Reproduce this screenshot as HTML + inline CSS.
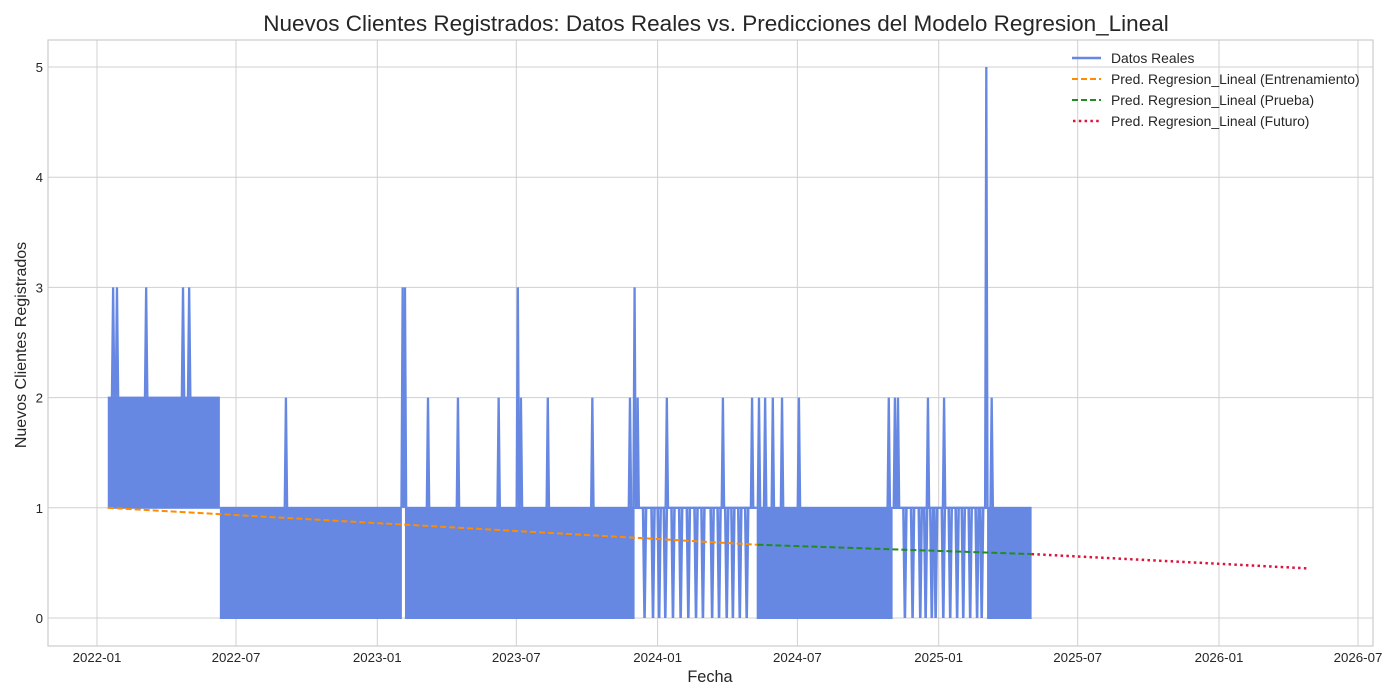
<!DOCTYPE html>
<html><head><meta charset="utf-8"><style>
body{margin:0;background:#fff}
svg{display:block;font-family:"Liberation Sans",Arial,sans-serif}
</style></head><body>
<svg id="chart" width="1400" height="700"></svg>
<script>
// Data (day index since 2022-01-01)
const xTickLabels=["2022-01","2022-07","2023-01","2023-07","2024-01","2024-07","2025-01","2025-07","2026-01","2026-07"];
const xTickDays=[0,181,365,546,730,912,1096,1277,1461,1642];
const yTicks=[0,1,2,3,4,5];
// dense oscillation segments: [startDay,endDay,low,high]
const denseSegments=[[14,160,1,2],[160,397,0,1],[401,700,0,1],[859,1036,0,1],[1159,1217,0,1]];
// sparse segments at value 1 with dips to 0: [startDay,endDay]
const sparseSegments=[[700,859],[1036,1159]];
const dipDays=[713,724,732,740,750,760,770,780,789,801,810,820,828,837,846,1052,1062,1072,1079,1087,1092,1102,1111,1120,1128,1137,1146,1152];
const spikeDays=[21,26,64,112,120,246,398,401,431,470,523,548,552,587,645,694,700,704,742,815,853,862,870,880,892,914,1031,1039,1043,1082,1103,1158,1165];
const spikeVals=[3,3,3,3,3,2,3,3,2,2,2,3,2,2,2,2,3,2,2,2,2,2,2,2,2,2,2,2,2,2,2,5,2];
const spikeBase=[2,2,2,2,2,1,1,1,1,1,1,1,1,1,1,1,1,1,1,1,1,1,1,1,1,1,1,1,1,1,1,1,1];
const trainDays=[14,860];const trainVals=[1.0,0.665];
const testDays=[860,1217];const testVals=[0.665,0.58];
const futureDays=[1217,1577];const futureVals=[0.58,0.45];

const L=48,R=1373,T=40,B=646;
const X=d=>97+d*(1261/1642);
const Y=v=>618-v*110.2;
const svg=document.getElementById('chart');
const NS='http://www.w3.org/2000/svg';
function mk(tag,attrs,parent){const e=document.createElementNS(NS,tag);for(const k in attrs)e.setAttribute(k,attrs[k]);(parent||svg).appendChild(e);return e;}

const grid=mk('g',{});


xTickDays.forEach((d,i)=>{
  mk('line',{x1:X(d),x2:X(d),y1:T,y2:B,stroke:'#d0d0d0','stroke-width':1},grid);
  const t=mk('text',{x:X(d),y:B+16,'text-anchor':'middle','font-size':13.3,fill:'#262626'});
  t.textContent=xTickLabels[i];
  
  
});
yTicks.forEach(v=>{
  mk('line',{x1:L,x2:R,y1:Y(v),y2:Y(v),stroke:'#d0d0d0','stroke-width':1},grid);
  const t=mk('text',{x:L-5,y:Y(v)+5,'text-anchor':'end','font-size':13.3,fill:'#262626'});
  t.textContent=v;
  
  
});
const frame=mk('rect',{x:L,y:T,width:R-L,height:B-T,fill:'none',stroke:'#cccccc','stroke-width':1.2});



const blue='#6688e3';
const series=mk('g',{});


denseSegments.forEach(s=>{
  const r=mk('rect',{x:X(s[0]),y:Y(s[3])-1,width:X(s[1])-X(s[0]),height:Y(s[2])-Y(s[3])+2,fill:blue},series);
  
});
sparseSegments.forEach(s=>{
  const l=mk('line',{x1:X(s[0]),x2:X(s[1]),y1:Y(1),y2:Y(1),stroke:blue,'stroke-width':2.3},series);
  
});
dipDays.forEach(d=>{
  const p=mk('polyline',{points:`${X(d)-1.5},${Y(1)} ${X(d)},${Y(0)} ${X(d)+1.5},${Y(1)}`,fill:'none',stroke:blue,'stroke-width':2.6},series);
  
});
spikeDays.forEach((d,i)=>{
  const p=mk('polyline',{points:`${X(d)-1.2},${Y(spikeBase[i])} ${X(d)},${Y(spikeVals[i])} ${X(d)+1.2},${Y(spikeBase[i])}`,fill:'none',stroke:blue,'stroke-width':2.3},series);
  
});

function predLine(days,vals,color,dash,name,w){
  const l=mk('line',{x1:X(days[0]),y1:Y(vals[0]),x2:X(days[1]),y2:Y(vals[1]),stroke:color,'stroke-width':w,'stroke-dasharray':dash});
  
  
}
predLine(trainDays,trainVals,'#ff8c00','6,3','pred-train-line',2);
predLine(testDays,testVals,'#228b22','6,3','pred-test-line',2);
predLine(futureDays,futureVals,'#dc143c','2.5,3.3','pred-future-line',2.5);
</script>
<svg style="position:absolute;left:0;top:0" width="1400" height="700">
<text x="716" y="31" text-anchor="middle" font-size="22.5" fill="#262626" font-family="Liberation Sans, sans-serif">Nuevos Clientes Registrados: Datos Reales vs. Predicciones del Modelo Regresion_Lineal</text>
<text x="710" y="682" text-anchor="middle" font-size="16.3" fill="#262626" font-family="Liberation Sans, sans-serif">Fecha</text>
<text transform="translate(26,345) rotate(-90)" text-anchor="middle" font-size="16" fill="#262626" font-family="Liberation Sans, sans-serif">Nuevos Clientes Registrados</text>
<g font-size="13.9" fill="#262626" font-family="Liberation Sans, sans-serif">
<line x1="1072" y1="58" x2="1101" y2="58" stroke="#6688e3" stroke-width="2.5"/>
<text x="1111" y="63">Datos Reales</text>
<line x1="1072" y1="79" x2="1101" y2="79" stroke="#ff8c00" stroke-width="2" stroke-dasharray="6,3"/>
<text x="1111" y="84">Pred. Regresion_Lineal (Entrenamiento)</text>
<line x1="1072" y1="100" x2="1101" y2="100" stroke="#228b22" stroke-width="2" stroke-dasharray="6,3"/>
<text x="1111" y="105">Pred. Regresion_Lineal (Prueba)</text>
<line x1="1073" y1="121" x2="1101" y2="121" stroke="#dc143c" stroke-width="2.5" stroke-dasharray="2.5,3.3"/>
<text x="1111" y="126">Pred. Regresion_Lineal (Futuro)</text>
</g>
</svg>
</body></html>
